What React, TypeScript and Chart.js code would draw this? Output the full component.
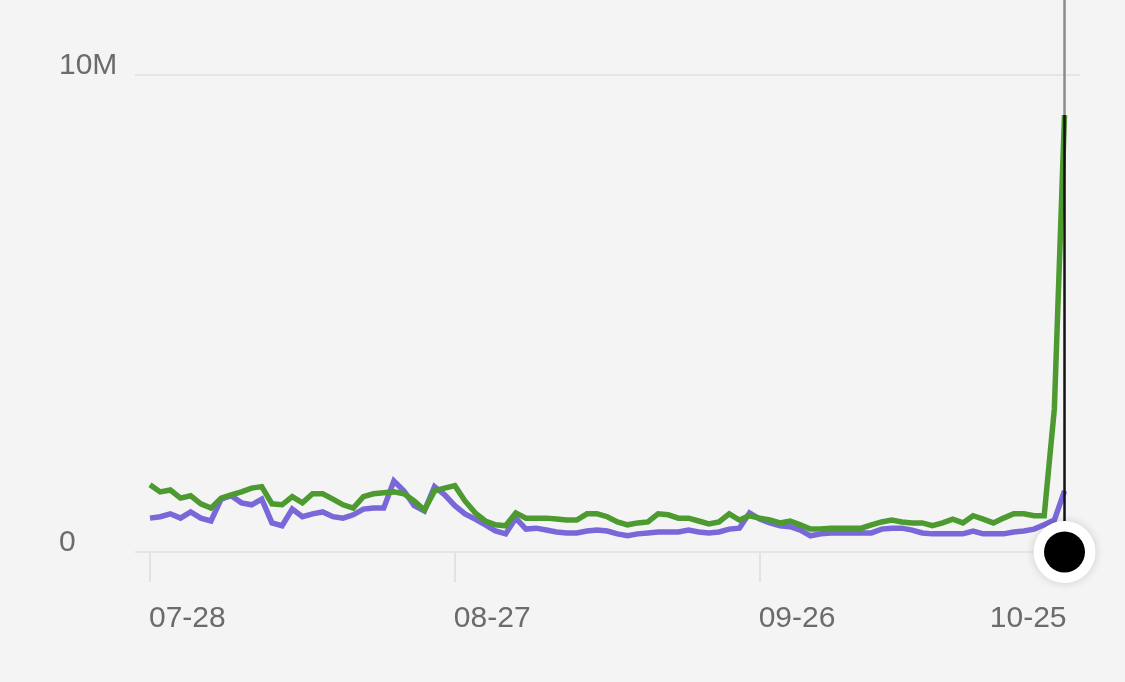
import React, { useEffect, useRef } from 'react';
import { Chart, registerables } from 'chart.js';

Chart.register(...registerables);

// Values in millions, one per day (index 0 = 07-28, index 90 = 10-25)
const greenSeries = [
  1.41, 1.26, 1.30, 1.13, 1.18, 1.01, 0.92, 1.13, 1.20, 1.26,
  1.34, 1.37, 1.01, 0.99, 1.16, 1.03, 1.22, 1.22, 1.11, 0.99,
  0.92, 1.16, 1.22, 1.24, 1.26, 1.22, 1.07, 0.88, 1.28, 1.34,
  1.39, 1.07, 0.82, 0.65, 0.57, 0.55, 0.82, 0.71, 0.71, 0.71,
  0.69, 0.67, 0.67, 0.80, 0.80, 0.74, 0.63, 0.57, 0.61, 0.63,
  0.80, 0.78, 0.71, 0.71, 0.65, 0.59, 0.63, 0.80, 0.67, 0.76,
  0.71, 0.67, 0.61, 0.65, 0.57, 0.48, 0.48, 0.50, 0.50, 0.50,
  0.50, 0.57, 0.63, 0.67, 0.63, 0.61, 0.61, 0.55, 0.61, 0.69,
  0.61, 0.76, 0.69, 0.61, 0.71, 0.80, 0.80, 0.76, 0.76, 3.00,
  9.16,
];

const purpleSeries = [
  0.71, 0.74, 0.80, 0.71, 0.84, 0.71, 0.65, 1.11, 1.18, 1.03,
  0.99, 1.11, 0.61, 0.55, 0.90, 0.74, 0.80, 0.84, 0.74, 0.71,
  0.78, 0.90, 0.92, 0.92, 1.49, 1.28, 0.97, 0.86, 1.37, 1.20,
  0.97, 0.80, 0.69, 0.57, 0.44, 0.38, 0.71, 0.48, 0.50, 0.46,
  0.42, 0.40, 0.40, 0.44, 0.46, 0.44, 0.38, 0.34, 0.38, 0.40,
  0.42, 0.42, 0.42, 0.46, 0.42, 0.40, 0.42, 0.48, 0.50, 0.82,
  0.69, 0.61, 0.55, 0.53, 0.46, 0.34, 0.38, 0.40, 0.40, 0.40,
  0.40, 0.40, 0.48, 0.50, 0.50, 0.46, 0.40, 0.38, 0.38, 0.38,
  0.38, 0.44, 0.38, 0.38, 0.38, 0.42, 0.44, 0.48, 0.57, 0.67,
  1.28,
];

const xTickIndices = [0, 30, 60, 90];
const xTickLabels = ['07-28', '08-27', '09-26', '10-25'];
const yTickValues = [0, 10000000];
const yTickLabels = ['0', '10M'];
const hoverIndex = 90;
const hoverValue = 0;

const MILLION = 1000000;
const BG = '#f4f4f4';
const TEXT = '#6b6b6b';
const FONT = '30px "Liberation Sans", Arial, Helvetica, sans-serif';

const overlayPlugin = {
  id: 'overlay',
  beforeDraw(chart: any) {
    const { ctx, width, height } = chart;
    ctx.save();
    ctx.fillStyle = BG;
    ctx.fillRect(0, 0, width, height);
    ctx.restore();
  },
  afterDatasetsDraw(chart: any) {
    const { ctx, scales } = chart;
    const x = scales.x;
    const y = scales.y;
    const px = x.getPixelForValue(hoverIndex);
    const gy = y.getPixelForValue(greenSeries[hoverIndex] * MILLION);
    const y0 = y.getPixelForValue(hoverValue);

    ctx.save();
    // crosshair
    ctx.lineWidth = 2.5;
    ctx.strokeStyle = '#8a8a8a';
    ctx.beginPath();
    ctx.moveTo(px, 0);
    ctx.lineTo(px, gy);
    ctx.stroke();
    ctx.strokeStyle = '#111111';
    ctx.beginPath();
    ctx.moveTo(px, gy);
    ctx.lineTo(px, y0);
    ctx.stroke();

    // hover dot
    ctx.shadowColor = 'rgba(0,0,0,0.16)';
    ctx.shadowBlur = 10;
    ctx.fillStyle = '#ffffff';
    ctx.beginPath();
    ctx.arc(px, y0, 31, 0, Math.PI * 2);
    ctx.fill();
    ctx.shadowColor = 'rgba(0,0,0,0)';
    ctx.shadowBlur = 0;
    ctx.fillStyle = '#000000';
    ctx.beginPath();
    ctx.arc(px, y0, 20.5, 0, Math.PI * 2);
    ctx.fill();

    // axis labels
    ctx.font = FONT;
    ctx.fillStyle = TEXT;
    ctx.textBaseline = 'alphabetic';
    ctx.textAlign = 'left';
    yTickValues.forEach((v, i) => {
      ctx.fillText(yTickLabels[i], 59, y.getPixelForValue(v) - 1);
    });
    xTickIndices.forEach((v, i) => {
      const tx = x.getPixelForValue(v);
      const last = i === xTickIndices.length - 1;
      ctx.textAlign = last ? 'right' : 'left';
      ctx.fillText(xTickLabels[i], last ? tx + 2 : tx - 1, 627);
    });
    ctx.restore();
  },
};

export default function App() {
  const canvasRef = useRef<HTMLCanvasElement | null>(null);

  useEffect(() => {
    const canvas = canvasRef.current;
    if (!canvas) return;
    const chart = new Chart(canvas, {
      type: 'line',
      data: {
        datasets: [
          {
            label: 'green',
            data: greenSeries.map((v, i) => ({ x: i, y: v * MILLION })),
            borderColor: '#4c9a30',
            borderWidth: 5.5,
            pointRadius: 0,
            tension: 0,
            fill: false,
          },
          {
            label: 'purple',
            data: purpleSeries.map((v, i) => ({ x: i, y: v * MILLION })),
            borderColor: '#7968d8',
            borderWidth: 5.5,
            pointRadius: 0,
            tension: 0,
            fill: false,
          },
        ],
      },
      options: {
        animation: false,
        responsive: false,
        devicePixelRatio: 1,
        layout: { padding: { left: 135, right: 45, top: 0, bottom: 100 } },
        plugins: {
          legend: { display: false },
          tooltip: { enabled: false },
        },
        events: [],
        scales: {
          x: {
            type: 'linear',
            min: -1.476,
            max: 91.524,
            afterBuildTicks: (scale: any) => {
              scale.ticks = xTickIndices.map((v) => ({ value: v }));
            },
            ticks: { display: false },
            border: { display: false },
            grid: {
              display: true,
              drawOnChartArea: false,
              drawTicks: true,
              tickLength: 30,
              color: '#e2e2e2',
              lineWidth: 2,
            },
          },
          y: {
            type: 'linear',
            min: 0,
            max: 11572000,
            afterBuildTicks: (scale: any) => {
              scale.ticks = yTickValues.map((v) => ({ value: v }));
            },
            ticks: { display: false },
            border: { display: false },
            grid: {
              color: '#e5e5e5',
              lineWidth: 2,
              drawTicks: false,
            },
          },
        },
      },
      plugins: [overlayPlugin],
    });
    return () => chart.destroy();
  }, []);

  return (
    <div
      style={{
        position: 'fixed',
        left: 0,
        top: 0,
        width: 1125,
        height: 682,
        background: BG,
      }}
    >
      <canvas ref={canvasRef} width={1125} height={682} style={{ width: 1125, height: 682, display: 'block' }} />
    </div>
  );
}
